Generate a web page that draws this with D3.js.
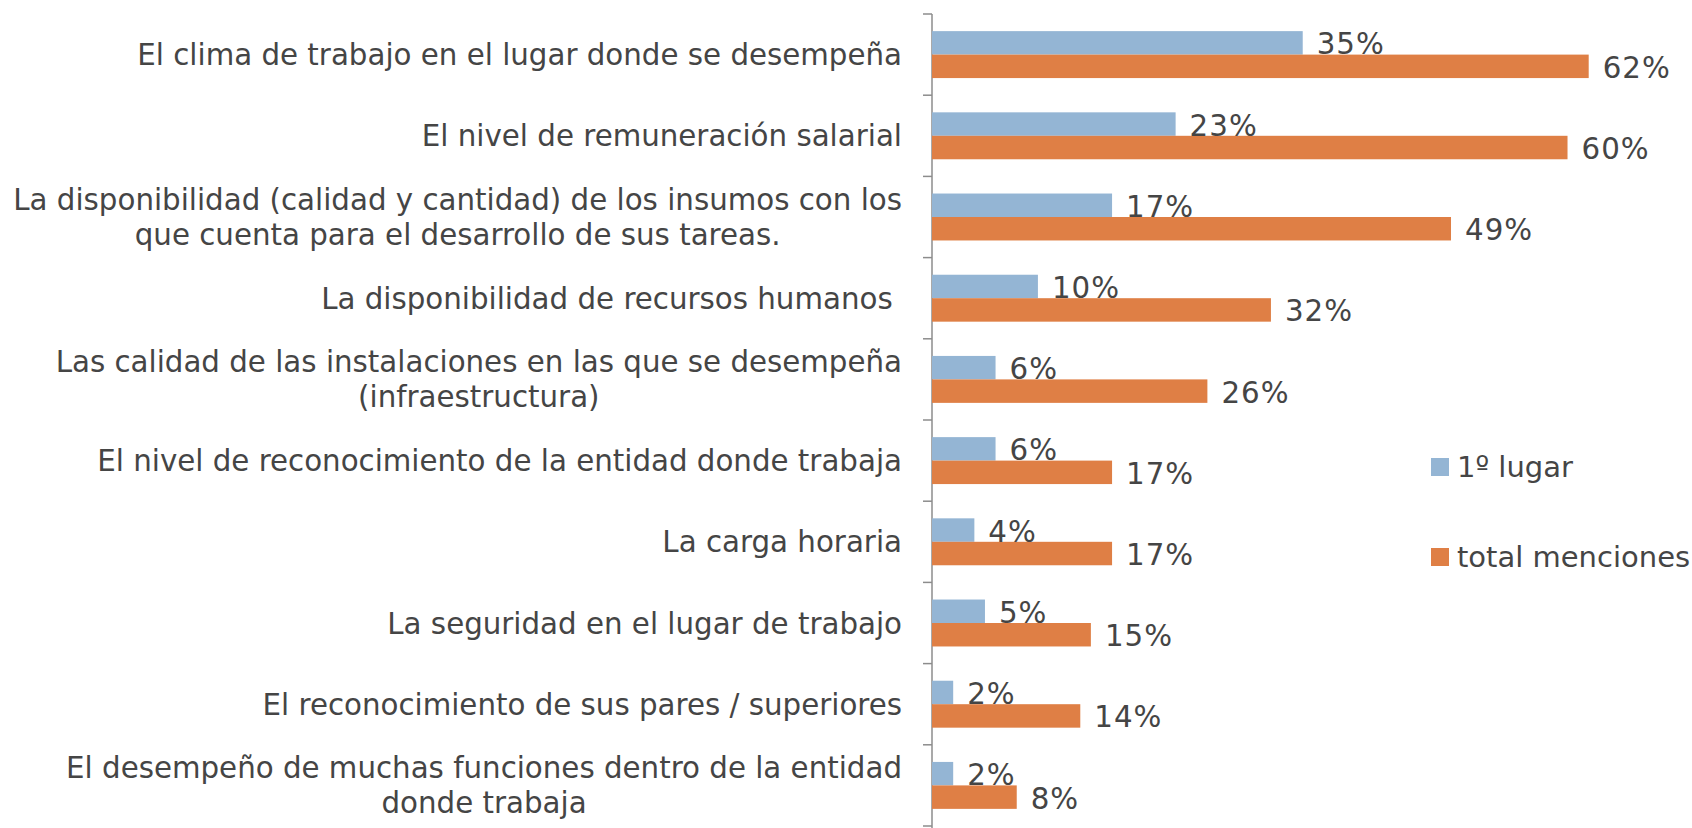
<!DOCTYPE html>
<html>
<head>
<meta charset="utf-8">
<script src="https://cdn.jsdelivr.net/npm/d3@7"></script>
<style>
  body { margin: 0; background: #fff; }
  svg { display: block; }
  text { font-family: "DejaVu Sans", Verdana, sans-serif; fill: #454545; }
</style>
</head>
<body>
<script>
// categories, top to bottom ("|" = line break)
var categories = [
  'El clima de trabajo en el lugar donde se desempeña',
  'El nivel de remuneración salarial',
  'La disponibilidad (calidad y cantidad) de los insumos con los|que cuenta para el desarrollo de sus tareas.',
  'La disponibilidad de recursos humanos ',
  'Las calidad de las instalaciones en las que se desempeña|(infraestructura)',
  'El nivel de reconocimiento de la entidad donde trabaja',
  'La carga horaria',
  'La seguridad en el lugar de trabajo',
  'El reconocimiento de sus pares / superiores',
  'El desempeño de muchas funciones dentro de la entidad|donde trabaja'
]
var primerLugar = [35, 23, 17, 10, 6, 6, 4, 5, 2, 2]
var totalMenciones = [62, 60, 49, 32, 26, 17, 17, 15, 14, 8]
var seriesNames = ['1º lugar', 'total menciones']

var colors = {
  '1º lugar': '#94b5d4',
  'total menciones': '#df7f45'
}

var width = 1692, height = 828
var axisX = 932, plotTop = 14, plotBottom = 826
var fontSize = 29.3

var rows = categories.map(function (c, i) {
  return { name: c, lines: c.split('|'), values: [primerLugar[i], totalMenciones[i]] }
})

var svg = d3.select('body').append('svg')
  .attr('width', width)
  .attr('height', height)

var x = d3.scaleLinear().domain([0, 62]).range([axisX, axisX + 656.7])

var y = d3.scaleBand().domain(categories).range([plotTop, plotBottom]).padding(0)

var ySub = d3.scaleBand().domain(seriesNames)
  .range([0, y.bandwidth()])
  .paddingInner(0)
  .paddingOuter(0.73)

// axis: line plus ticks between the categories
var axisG = svg.append('g').attr('transform', 'translate(' + axisX + ',0)')
axisG.append('line')
  .attr('x1', 0).attr('x2', 0).attr('y1', plotTop).attr('y2', height)
  .attr('stroke', '#8c8c8c').attr('stroke-width', 1.5)
var bounds = d3.range(categories.length + 1).map(function (i) { return plotTop + i * y.step() })
axisG.selectAll('line.sep').data(bounds).enter().append('line')
  .attr('class', 'sep')
  .attr('x1', -9).attr('x2', 0)
  .attr('y1', function (d) { return d }).attr('y2', function (d) { return d })
  .attr('stroke', '#8c8c8c').attr('stroke-width', 1.5)

var groups = svg.append('g').selectAll('g').data(rows).enter().append('g')
  .attr('transform', function (d) { return 'translate(0,' + y(d.name) + ')' })

function pairs (d) {
  return d.values.map(function (v, j) { return { key: seriesNames[j], value: v } })
}

groups.selectAll('rect').data(pairs).enter().append('rect')
  .attr('x', x(0))
  .attr('y', function (d) { return ySub(d.key) })
  .attr('width', function (d) { return x(d.value) - x(0) })
  .attr('height', ySub.bandwidth())
  .attr('fill', function (d) { return colors[d.key] })

groups.selectAll('text.val').data(pairs).enter().append('text')
  .attr('class', 'val')
  .attr('x', function (d) { return x(d.value) + 14 })
  .attr('y', function (d) { return ySub(d.key) + ySub.bandwidth() / 2 + 1 })
  .attr('dy', '0.36em')
  .attr('font-size', fontSize)
  .attr('letter-spacing', 1)
  .text(function (d) { return d.value + '%' })

// category labels: block centred, right edge near the axis
var labelRight = 902, lineH = 35
groups.each(function (d) {
  var g = d3.select(this)
  var n = d.lines.length
  var cy = y.bandwidth() / 2
  var texts = d.lines.map(function (line, k) {
    return g.append('text')
      .attr('y', cy + (k - (n - 1) / 2) * lineH)
      .attr('dy', '0.36em')
      .attr('font-size', fontSize)
      .attr('text-anchor', 'middle')
      .style('white-space', 'pre')
      .text(line)
  })
  var maxW = d3.max(texts, function (t) { return t.node().getComputedTextLength() })
  texts.forEach(function (t) { t.attr('x', labelRight - maxW / 2) })
})

// legend
var legend = svg.append('g').attr('transform', 'translate(1431,458)')
var li = legend.selectAll('g').data(seriesNames).enter().append('g')
  .attr('transform', function (d, i) { return 'translate(0,' + i * 90 + ')' })
li.append('rect').attr('width', 18).attr('height', 18)
  .attr('fill', function (d) { return colors[d] })
li.append('text').attr('x', 26).attr('y', 9).attr('dy', '0.36em')
  .attr('font-size', 29)
  .text(function (d) { return d })
</script>
</body>
</html>
